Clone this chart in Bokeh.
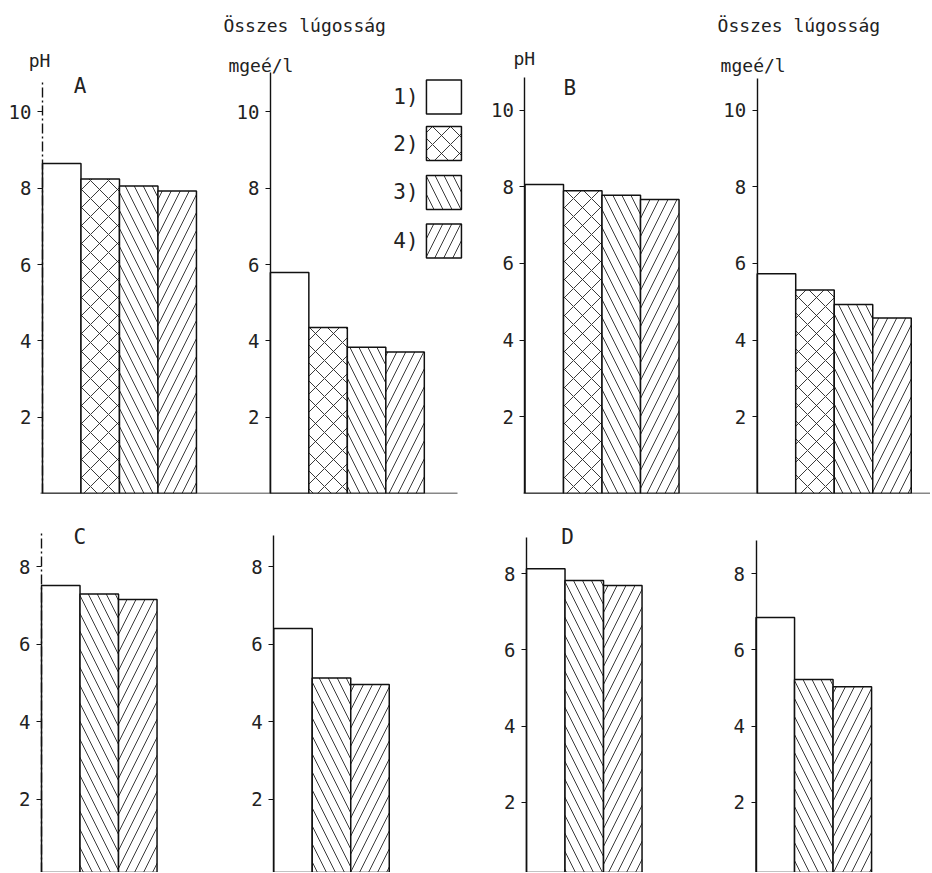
from bokeh.plotting import figure
from bokeh.models import LinearAxis, FixedTicker, Range1d, ColumnDataSource
from bokeh.layouts import column, row
from bokeh.embed import file_html
from bokeh.resources import INLINE
from bokeh.core.properties import value

FONT = "DejaVu Sans Mono"

# ---------------- data ----------------
treatments = ["1)", "2)", "3)", "4)"]
hatch_of = {"1)": " ", "2)": "x", "3)": "\\", "4)": "/"}
hatch_scale_of = {"1)": 18, "2)": 18, "3)": 18, "4)": 18}

# panel A (treatments 1-4)
ph_A = [8.65, 8.24, 8.06, 7.93]
alk_A = [5.79, 4.35, 3.83, 3.71]
# panel B (treatments 1-4)
ph_B = [8.06, 7.90, 7.78, 7.67]
alk_B = [5.73, 5.31, 4.93, 4.58]
# panel C (treatments 1, 3, 4)
treat_CD = ["1)", "3)", "4)"]
ph_C = [7.52, 7.30, 7.16]
alk_C = [6.41, 5.13, 4.96]
# panel D (treatments 1, 3, 4)
ph_D = [8.13, 7.82, 7.69]
alk_D = [6.85, 5.22, 5.03]

ticks_top = [2, 4, 6, 8, 10]
ticks_bottom = [2, 4, 6, 8]

title_alk = "Összes lúgosság"
unit_alk = "mgeé/l"
title_ph = "pH"


def style_axis(ax, dash=None):
    ax.axis_line_color = "#111111"
    ax.axis_line_width = 1.4
    if dash:
        ax.axis_line_dash = dash
    ax.major_tick_line_color = "#111111"
    ax.major_tick_line_width = 1.2
    ax.major_tick_out = 5
    ax.major_tick_in = 0
    ax.minor_tick_line_color = None
    ax.major_label_text_font = FONT
    ax.major_label_text_font_size = "19px"
    ax.major_label_text_color = "#222222"
    ax.major_label_standoff = 6


def panel(width, height, xr, yr, ph_vals, alk_vals, treats, alk_x, ticks,
          ph_top, alk_top, letter, letter_xy, baseline=None, ph_dash=None,
          headers=None, legend=None, bottom_border=0):
    p = figure(width=width, height=height, x_range=Range1d(*xr), y_range=Range1d(*yr),
               x_axis_type=None, y_axis_type=None, toolbar_location=None,
               output_backend="svg", min_border=0, min_border_bottom=bottom_border,
               outline_line_color=None, background_fill_color="white",
               border_fill_color="white")
    p.extra_y_ranges = {"alk": Range1d(*yr)}

    n = len(treats)
    src_ph = ColumnDataSource(dict(x=[i + 0.5 for i in range(n)], top=ph_vals,
                                   hatch=[hatch_of[t] for t in treats],
                                   hs=[hatch_scale_of[t] for t in treats]))
    src_alk = ColumnDataSource(dict(x=[alk_x + i + 0.5 for i in range(n)], top=alk_vals,
                                    hatch=[hatch_of[t] for t in treats],
                                    hs=[hatch_scale_of[t] for t in treats]))
    for src, rng in ((src_ph, "default"), (src_alk, "alk")):
        p.vbar(x="x", top="top", bottom=0, width=1.0, source=src, y_range_name=rng,
               fill_color="white", line_color="#111111", line_width=1.5,
               hatch_pattern="hatch", hatch_color="#222222", hatch_scale="hs",
               hatch_weight=0.9)

    ax_ph = LinearAxis(fixed_location=0, bounds=(0, ph_top), ticker=FixedTicker(ticks=ticks))
    style_axis(ax_ph, ph_dash)
    p.add_layout(ax_ph, "left")
    ax_alk = LinearAxis(fixed_location=alk_x, bounds=(0, alk_top), y_range_name="alk",
                        ticker=FixedTicker(ticks=ticks))
    style_axis(ax_alk)
    p.add_layout(ax_alk, "left")

    if baseline is not None:
        ax_x = LinearAxis(fixed_location=0, bounds=baseline, ticker=FixedTicker(ticks=[]))
        style_axis(ax_x)
        ax_x.major_label_text_font_size = "0px"
        ax_x.major_tick_line_color = None
        p.add_layout(ax_x, "below")

    p.text(x=[letter_xy[0]], y=[letter_xy[1]], text=[letter], text_font=value(FONT),
           text_font_size="21px", text_align="left", text_baseline="middle",
           text_color="#222222")

    if headers is not None:
        xs, ys, txt = headers
        p.text(x=xs, y=ys, text=txt, text_font=value(FONT), text_font_size="18px",
               text_align="left", text_baseline="middle", text_color="#222222")

    if legend is not None:
        lx, lys, tx = legend
        p.rect(x=[lx] * len(treatments), y=lys, width=35, height=34,
               width_units="screen", height_units="screen",
               fill_color="white", line_color="#111111", line_width=1.5,
               hatch_pattern=[hatch_of[t] for t in treatments], hatch_color="#222222",
               hatch_scale=[hatch_scale_of[t] for t in treatments], hatch_weight=0.9)
        p.text(x=[tx] * len(treatments), y=lys, text=treatments, text_font=value(FONT),
               text_font_size="21px", text_align="right", text_baseline="middle",
               text_color="#222222")
    return p


pA = panel(465, 500, (-1.091, 10.99), (0, 12.92), ph_A, alk_A, treatments, 5.92,
           ticks_top, 10.82, 11.03, "A", (0.81, 10.69), baseline=(-0.05, 10.78),
           ph_dash="10 3 2 3",
           headers=([4.70, 4.83, -0.36], [12.26, 11.22, 11.34], [title_alk, unit_alk, title_ph]),
           legend=(10.43, [10.39, 9.17, 7.89, 6.62], 9.77), bottom_border=7)

pB = panel(465, 500, (-1.545, 10.53), (0, 12.86), ph_B, alk_B, treatments, 6.03,
           ticks_top, 10.86, 10.83, "B", (1.0, 10.59), baseline=(-0.04, 10.53),
           headers=([5.0, 5.08, -0.30], [12.21, 11.17, 11.35], [title_alk, unit_alk, title_ph]),
           bottom_border=7)

pC = panel(465, 372, (-1.065, 11.01), (0.104, 9.716), ph_C, alk_C, treat_CD, 6.03,
           ticks_bottom, 8.94, 8.81, "C", (0.83, 8.76), ph_dash="10 3 2 3")

pD = panel(465, 372, (-1.584, 10.49), (0.158, 9.92), ph_D, alk_D, treat_CD, 5.96,
           ticks_bottom, 8.96, 8.87, "D", (0.9, 8.95))

layout = column(row(pA, pB), row(pC, pD))
open("out.html", "w").write(file_html(layout, INLINE))
